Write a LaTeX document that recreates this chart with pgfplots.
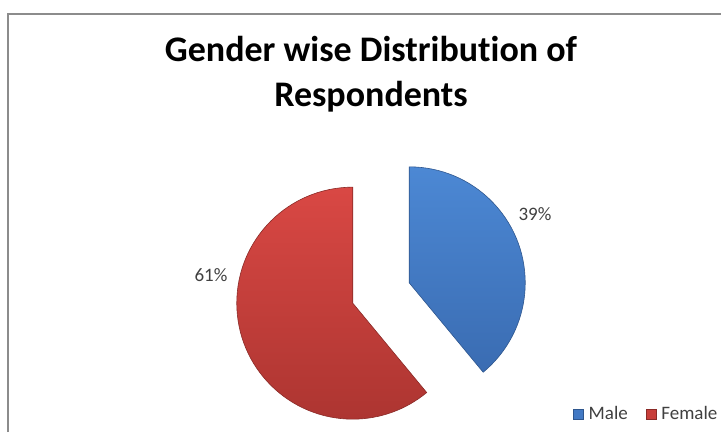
\documentclass[border=0pt]{standalone}
\usepackage{pgfplots}
\pgfplotsset{compat=1.18}
\usepackage{pgfplotstable}
\usetikzlibrary{calc}
\usepackage{fontspec}
\setmainfont{Carlito}[Ligatures=NoCommon]
\definecolor{maleA}{HTML}{4C88D4}
\definecolor{maleB}{HTML}{3A6CB2}
\definecolor{maleM}{HTML}{4279C4}
\definecolor{femA}{HTML}{D94844}
\definecolor{femB}{HTML}{AD3531}
\definecolor{femM}{HTML}{C83E3A}
\definecolor{framegray}{HTML}{8C8C8C}
\definecolor{txt}{HTML}{404040}
\pgfplotstableread{
gender value
Male 39
Female 61
}\genderdata
\begin{document}
\begin{tikzpicture}
\pgfplotstablegetelem{0}{value}\of\genderdata \let\male\pgfplotsretval
\pgfplotstablegetelem{1}{value}\of\genderdata \let\female\pgfplotsretval
\pgfmathsetmacro{\tot}{\male+\female}
\pgfmathsetmacro{\mang}{360*\male/\tot}
\pgfmathsetmacro{\mend}{90-\mang}
\pgfmathsetmacro{\fend}{90-\mang+360}
\pgfmathsetmacro{\mmid}{90-\mang/2}
\pgfmathsetmacro{\fmid}{\mmid+180}
\def\R{116}
\def\ex{30}
\def\cx{381}
\def\cy{139}
\begin{axis}[
  at={(0,0)}, anchor=south west,
  width=721pt, height=432pt, scale only axis,
  xmin=0, xmax=721, ymin=0, ymax=432,
  hide axis, clip=false,
  legend style={at={(axis cs:573,18)}, anchor=west, draw=none, fill=none,
    legend columns=2, font=\fontsize{19}{22}\selectfont\color{txt},
    nodes={inner sep=0pt},
    /tikz/every odd column/.append style={column sep=5pt},
    /tikz/every even column/.append style={column sep=18pt},
    inner sep=0pt},
  legend image code/.code={\fill[#1] (0pt,-5pt) rectangle (10pt,5pt);},
]
% frame
\draw[framegray, line width=2pt] (axis cs:8,0) -- (axis cs:8,418) -- (axis cs:721,418);
% title
\node[font=\fontsize{36}{42}\selectfont\bfseries, anchor=base] at (axis cs:371,370) {Gender wise Distribution of};
\node[font=\fontsize{36}{42}\selectfont\bfseries, anchor=base] at (axis cs:371,325) {Respondents};
% male slice
\shade[top color=maleA, bottom color=maleB, draw=maleB!80!black, line width=0.6pt]
  ($(axis cs:\cx,\cy)+(\mmid:\ex pt)$) -- ++(90:\R pt) arc[start angle=90, end angle=\mend, radius=\R pt] -- cycle;
% female slice
\shade[top color=femA, bottom color=femB, draw=femB!80!black, line width=0.6pt]
  ($(axis cs:\cx,\cy)+(\fmid:\ex pt)$) -- ++(90:\R pt) arc[start angle=90, end angle=\fend, radius=\R pt] -- cycle;
% labels
\node[font=\fontsize{19}{22}\selectfont, txt] at (axis cs:535,218) {\male\%};
\node[font=\fontsize{19}{22}\selectfont, txt] at (axis cs:211,157) {\female\%};
\addlegendimage{fill=maleM, draw=maleB!80!black, line width=0.5pt}
\addlegendentry{Male}
\addlegendimage{fill=femM, draw=femB!80!black, line width=0.5pt}
\addlegendentry{Female}
\end{axis}
\pgfresetboundingbox
\useasboundingbox (0,0) rectangle (721pt,432pt);
\end{tikzpicture}
\end{document}
